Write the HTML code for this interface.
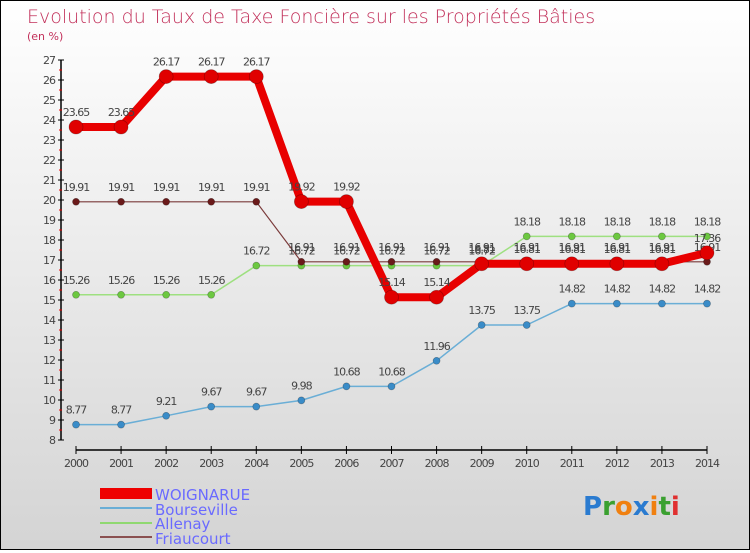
<!DOCTYPE html>
<html><head><meta charset="utf-8"><style>
html,body{margin:0;padding:0}
body{width:750px;height:550px;overflow:hidden;font-family:"DejaVu Sans","Liberation Sans",sans-serif}
#wrap{position:relative;width:748px;height:548px;border:1px solid #000;background:linear-gradient(#ffffff,#d4d4d4)}
</style></head><body>
<div id="wrap">
<svg id="chart" width="748" height="548">
<text x="26" y="22" font-size="19" fill="#c2305a" font-family="DejaVu Sans, sans-serif" font-weight="200">Evolution du Taux de Taxe Foncière sur les Propriétés Bâties</text>
<text x="26" y="39" font-size="11" fill="#c2305a">(en %)</text>
<g id="axes"></g><g id="series"></g>
<g>
<rect x="99" y="487" width="52" height="11" fill="#e00"/>
<text x="154" y="499" font-size="15" fill="#6a6aff">WOIGNARUE</text>
<rect x="99" y="506" width="52" height="2" fill="#6aaed6"/>
<text x="154" y="514" font-size="15" fill="#6a6aff">Bourseville</text>
<rect x="99" y="521" width="52" height="2" fill="#8fd870"/>
<text x="154" y="528" font-size="15" fill="#6a6aff">Allenay</text>
<rect x="99" y="535" width="52" height="2" fill="#8a5050"/>
<text x="154" y="543" font-size="15" fill="#6a6aff">Friaucourt</text>
</g>
<text x="582" y="514" font-size="26" font-weight="bold"><tspan fill="#2a7bd0">P</tspan><tspan fill="#3aa030">r</tspan><tspan fill="#f08010">o</tspan><tspan fill="#2a7bd0">x</tspan><tspan fill="#f08010">i</tspan><tspan fill="#3aa030">t</tspan><tspan fill="#e03030">i</tspan></text>
</svg></div>
<script>
const years=[2000,2001,2002,2003,2004,2005,2006,2007,2008,2009,2010,2011,2012,2013,2014];
const woignarue=[23.65,23.65,26.17,26.17,26.17,19.92,19.92,15.14,15.14,16.81,16.81,16.81,16.81,16.81,17.36];
const bourseville=[8.77,8.77,9.21,9.67,9.67,9.98,10.68,10.68,11.96,13.75,13.75,14.82,14.82,14.82,14.82];
const allenay=[15.26,15.26,15.26,15.26,16.72,16.72,16.72,16.72,16.72,16.72,18.18,18.18,18.18,18.18,18.18];
const friaucourt=[19.91,19.91,19.91,19.91,19.91,16.91,16.91,16.91,16.91,16.91,16.91,16.91,16.91,16.91,16.91];
const yTicks=[8,9,10,11,12,13,14,15,16,17,18,19,20,21,22,23,24,25,26,27];
const NS='http://www.w3.org/2000/svg';
const X=i=>75+i*(706-75)/(years.length-1);
const Y=v=>59+(27-v)*20;
function mk(t,a,p){const e=document.createElementNS(NS,t);for(const k in a)e.setAttribute(k,a[k]);p.appendChild(e);return e;}
const ax=document.getElementById('axes');
const yl=mk('line',{x1:60,y1:Y(27),x2:60,y2:Y(8),stroke:'#000','stroke-width':1.5},ax);


const xl=mk('line',{x1:X(0),y1:449,x2:X(14),y2:449,stroke:'#000','stroke-width':1.5},ax);


yTicks.forEach(v=>{
 mk('line',{x1:57,y1:Y(v),x2:63,y2:Y(v),stroke:'#000'},ax);
 if(v<27) mk('line',{x1:58,y1:Y(v+0.5),x2:61,y2:Y(v+0.5),stroke:'#e00'},ax);
 const t=mk('text',{x:54,y:Y(v)+4,'font-size':11,fill:'#444','text-anchor':'end','letter-spacing':'-1'},ax);
 t.textContent=v;
 
 
});
years.forEach((yr,i)=>{
 mk('line',{x1:X(i),y1:445,x2:X(i),y2:453,stroke:'#000'},ax);
 const t=mk('text',{x:X(i),y:466,'font-size':11,fill:'#444','text-anchor':'middle','letter-spacing':'-1'},ax);
 t.textContent=yr;
 
 
});
const sg=document.getElementById('series');
function draw(name,vals,col,dot,w,r){
 const g=mk('g',{},sg);
 
 
 mk('polyline',{points:vals.map((v,i)=>X(i)+','+Y(v)).join(' '),fill:'none',stroke:col,'stroke-width':w,'stroke-linejoin':'round'},g);
 vals.forEach((v,i)=>{
  const c=mk('circle',{cx:X(i),cy:Y(v),r:r,fill:dot,stroke:'rgba(0,0,0,0.3)','stroke-width':0.7},g);
  
  
  const t=mk('text',{x:X(i),y:Y(v)-11,'font-size':11,fill:'#444','text-anchor':'middle','letter-spacing':'-1'},g);
  t.textContent=v;
  
  
 });
}
draw('bourseville',bourseville,'#6aaed6','#3a8cc8',1.5,3.5);
draw('allenay',allenay,'#9ee080','#6cc840',1.5,3.5);
draw('friaucourt',friaucourt,'#7a3a3a','#6a1a1a',1.2,3.5);
draw('woignarue',woignarue,'#e80000','#e00000',8,7);
</script>
</body></html>
